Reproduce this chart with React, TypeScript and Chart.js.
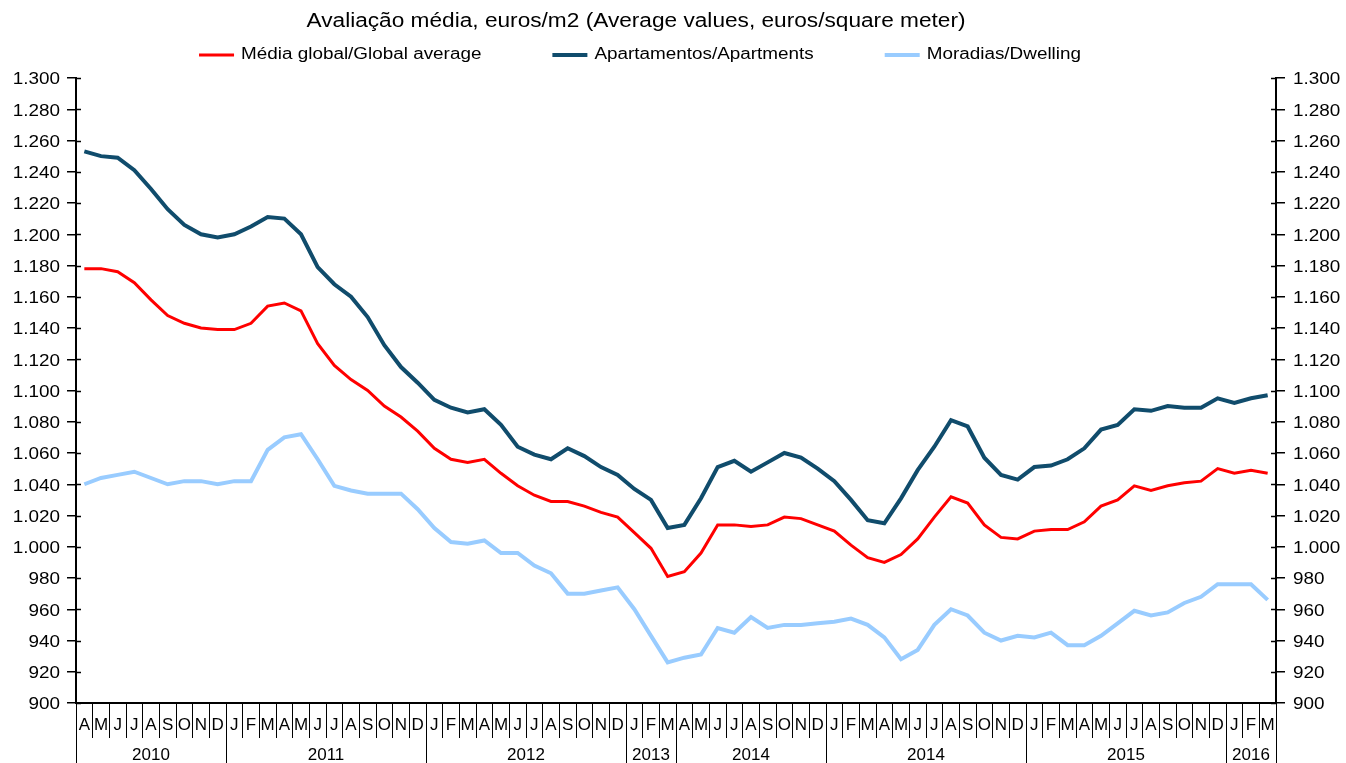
import React, { useEffect, useRef } from 'react';
import { Chart, registerables } from 'chart.js';

Chart.register(...registerables);

const TITLE = 'Avaliação média, euros/m2 (Average values, euros/square meter)';

const monthLabels = [
  'A', 'M', 'J', 'J', 'A', 'S', 'O', 'N', 'D',
  'J', 'F', 'M', 'A', 'M', 'J', 'J', 'A', 'S', 'O', 'N', 'D',
  'J', 'F', 'M', 'A', 'M', 'J', 'J', 'A', 'S', 'O', 'N', 'D',
  'J', 'F', 'M',
  'A', 'M', 'J', 'J', 'A', 'S', 'O', 'N', 'D',
  'J', 'F', 'M', 'A', 'M', 'J', 'J', 'A', 'S', 'O', 'N', 'D',
  'J', 'F', 'M', 'A', 'M', 'J', 'J', 'A', 'S', 'O', 'N', 'D',
  'J', 'F', 'M',
];

const yearLabels = ['2010', '2011', '2012', '2013', '2014', '2014', '2015', '2016'];
const yearSpans = [9, 12, 12, 3, 9, 12, 12, 3];

const globalAverage = [
  1178, 1178, 1176, 1169, 1158, 1148, 1143, 1140, 1139,
  1139, 1143, 1154, 1156, 1151, 1130, 1116, 1107, 1100, 1090, 1083, 1074,
  1063, 1056, 1054, 1056, 1047, 1039, 1033, 1029, 1029, 1026, 1022, 1019,
  1009, 999, 981,
  984, 996, 1014, 1014, 1013, 1014, 1019, 1018, 1014,
  1010, 1001, 993, 990, 995, 1005, 1019, 1032, 1028, 1014, 1006, 1005,
  1010, 1011, 1011, 1016, 1026, 1030, 1039, 1036, 1039, 1041, 1042, 1050,
  1047, 1049, 1047,
];

const apartments = [
  1253, 1250, 1249, 1241, 1229, 1216, 1206, 1200, 1198,
  1200, 1205, 1211, 1210, 1200, 1179, 1168, 1160, 1147, 1129, 1115, 1105,
  1094, 1089, 1086, 1088, 1078, 1064, 1059, 1056, 1063, 1058, 1051, 1046,
  1037, 1030, 1012,
  1014, 1031, 1051, 1055, 1048, 1054, 1060, 1057, 1050,
  1042, 1030, 1017, 1015, 1031, 1049, 1064, 1081, 1077, 1057, 1046, 1043,
  1051, 1052, 1056, 1063, 1075, 1078, 1088, 1087, 1090, 1089, 1089, 1095,
  1092, 1095, 1097,
];

const dwellings = [
  1040, 1044, 1046, 1048, 1044, 1040, 1042, 1042, 1040,
  1042, 1042, 1062, 1070, 1072, 1056, 1039, 1036, 1034, 1034, 1034, 1024,
  1012, 1003, 1002, 1004, 996, 996, 988, 983, 970, 970, 972, 974,
  960, 943, 926,
  929, 931, 948, 945, 955, 948, 950, 950, 951,
  952, 954, 950, 942, 928, 934, 950, 960, 956, 945, 940, 943,
  942, 945, 937, 937, 943, 951, 959, 956, 958, 964, 968, 976,
  976, 976, 966,
];

const seriesNames = [
  'Média global/Global average',
  'Apartamentos/Apartments',
  'Moradias/Dwelling',
];

const Y_MIN = 900;
const Y_MAX = 1300;
const Y_STEP = 20;

const FONT = '"Liberation Sans", Arial, Helvetica, sans-serif';
const STRETCH = 1.18;

const fmt = (v: number | string) => {
  const n = Number(v);
  const s = String(Math.round(n));
  return s.length > 3 ? s.slice(0, s.length - 3) + '.' + s.slice(s.length - 3) : s;
};

const stretchedText = (
  ctx: CanvasRenderingContext2D,
  text: string,
  x: number,
  y: number,
  align: CanvasTextAlign,
  sx: number,
) => {
  ctx.save();
  ctx.translate(x, y);
  ctx.scale(sx, 1);
  ctx.textAlign = align;
  ctx.textBaseline = 'middle';
  ctx.fillText(text, 0, 0);
  ctx.restore();
};

const decorPlugin = {
  id: 'decor',
  afterDraw(chart: any) {
    const ctx = chart.ctx as CanvasRenderingContext2D;
    const ca = chart.chartArea;
    const xs = chart.scales.x;
    const ys = chart.scales.y;
    ctx.save();
    ctx.fillStyle = '#000';

    // Title
    ctx.font = `20px ${FONT}`;
    const tw = ctx.measureText(TITLE).width;
    const titleSx = 659 / tw;
    stretchedText(ctx, TITLE, 636, 21, 'center', titleSx);

    // Legend
    ctx.font = `16px ${FONT}`;
    const items = chart.data.datasets.map((ds: any) => ({
      label: ds.label,
      color: ds.borderColor,
      lw: ds.borderWidth,
    }));
    const lineLen = 35;
    const gap = 7;
    const itemGap = 71;
    const widths = items.map(
      (it: any) => lineLen + gap + ctx.measureText(it.label).width * STRETCH,
    );
    const total =
      widths.reduce((a: number, b: number) => a + b, 0) + itemGap * (items.length - 1);
    let cx = 640 - total / 2;
    const ly = 55;
    items.forEach((it: any, i: number) => {
      ctx.strokeStyle = it.color;
      ctx.lineWidth = it.lw;
      ctx.beginPath();
      ctx.moveTo(cx, ly);
      ctx.lineTo(cx + lineLen, ly);
      ctx.stroke();
      ctx.fillStyle = '#000';
      stretchedText(ctx, it.label, cx + lineLen + gap, ly, 'left', STRETCH);
      cx += widths[i] + itemGap;
    });

    // Value-axis labels (both sides)
    ctx.font = `16px ${FONT}`;
    ctx.fillStyle = '#000';
    ys.ticks.forEach((t: any) => {
      const py = ys.getPixelForValue(t.value) + 2;
      const lbl = fmt(t.value);
      stretchedText(ctx, lbl, ca.left - 16, py, 'right', STRETCH);
      stretchedText(ctx, lbl, ca.right + 17, py, 'left', STRETCH);
    });

    // Year row
    const half = (xs.getPixelForValue(1) - xs.getPixelForValue(0)) / 2;
    ctx.strokeStyle = '#000';
    ctx.lineWidth = 1;
    ctx.font = `17px ${FONT}`;
    ctx.fillStyle = '#000';
    ctx.textAlign = 'center';
    ctx.textBaseline = 'middle';
    let idx = 0;
    yearLabels.forEach((yl, i) => {
      const span = yearSpans[i];
      const l = xs.getPixelForValue(idx) - half;
      const r = xs.getPixelForValue(idx + span - 1) + half;
      ctx.beginPath();
      ctx.moveTo(Math.round(l) + 0.5, ca.bottom);
      ctx.lineTo(Math.round(l) + 0.5, chart.height);
      if (i === yearLabels.length - 1) {
        ctx.moveTo(Math.round(r) + 0.5, ca.bottom);
        ctx.lineTo(Math.round(r) + 0.5, chart.height);
      }
      ctx.stroke();
      ctx.fillText(yl, (l + r) / 2, 755);
      idx += span;
    });

    // Inner tick marks on both value axes
    ctx.lineWidth = 1.5;
    ys.ticks.forEach((t: any) => {
      const py = Math.round(ys.getPixelForValue(t.value)) + 0.5;
      ctx.beginPath();
      ctx.moveTo(ca.left, py);
      ctx.lineTo(ca.left + 5, py);
      ctx.moveTo(ca.right - 5, py);
      ctx.lineTo(ca.right, py);
      ctx.stroke();
    });

    ctx.restore();
  },
};

export default function App() {
  const canvasRef = useRef<HTMLCanvasElement | null>(null);

  useEffect(() => {
    const canvas = canvasRef.current;
    if (!canvas) return;
    Chart.defaults.font.family = FONT;
    Chart.defaults.color = '#000';

    const yAxisCommon = (position: 'left' | 'right', width: number) => ({
      type: 'linear' as const,
      position,
      min: Y_MIN,
      max: Y_MAX,
      ticks: {
        stepSize: Y_STEP,
        display: false,
      },
      grid: {
        drawOnChartArea: false,
        tickLength: 9,
        color: '#000',
        lineWidth: 1.5,
      },
      border: { display: true, color: '#000', width: 2 },
      afterFit: (s: any) => {
        s.width = width;
      },
    });

    const chart = new Chart(canvas, {
      type: 'line',
      data: {
        labels: monthLabels,
        datasets: [
          {
            label: seriesNames[0],
            data: globalAverage,
            borderColor: '#FF0000',
            backgroundColor: '#FF0000',
            borderWidth: 3,
            pointRadius: 0,
            tension: 0,
            yAxisID: 'y',
          },
          {
            label: seriesNames[1],
            data: apartments,
            borderColor: '#104C6C',
            backgroundColor: '#104C6C',
            borderWidth: 4,
            pointRadius: 0,
            tension: 0,
            yAxisID: 'y',
          },
          {
            label: seriesNames[2],
            data: dwellings,
            borderColor: '#99CCFF',
            backgroundColor: '#99CCFF',
            borderWidth: 4,
            pointRadius: 0,
            tension: 0,
            yAxisID: 'y',
          },
        ],
      },
      options: {
        responsive: false,
        animation: false,
        events: [],
        layout: { padding: { top: 78, left: 0, right: 0, bottom: 0 } },
        plugins: {
          legend: { display: false },
          title: { display: false },
          tooltip: { enabled: false },
        },
        scales: {
          x: {
            type: 'category',
            offset: true,
            grid: {
              offset: true,
              drawOnChartArea: false,
              tickLength: 35,
              color: '#000',
              lineWidth: 1,
            },
            border: { display: true, color: '#000', width: 2 },
            ticks: {
              autoSkip: false,
              maxRotation: 0,
              minRotation: 0,
              padding: -23,
              color: '#000',
              font: { size: 17 },
            },
            afterFit: (s: any) => {
              s.height = 60;
            },
          },
          y: yAxisCommon('left', 76),
          y2: yAxisCommon('right', 70),
        },
      },
      plugins: [decorPlugin],
    } as any);

    return () => {
      chart.destroy();
    };
  }, []);

  return (
    <div style={{ position: 'fixed', left: 0, top: 0, width: 1346, height: 763, background: '#fff' }}>
      <canvas ref={canvasRef} width={1346} height={763} style={{ display: 'block' }} />
    </div>
  );
}
